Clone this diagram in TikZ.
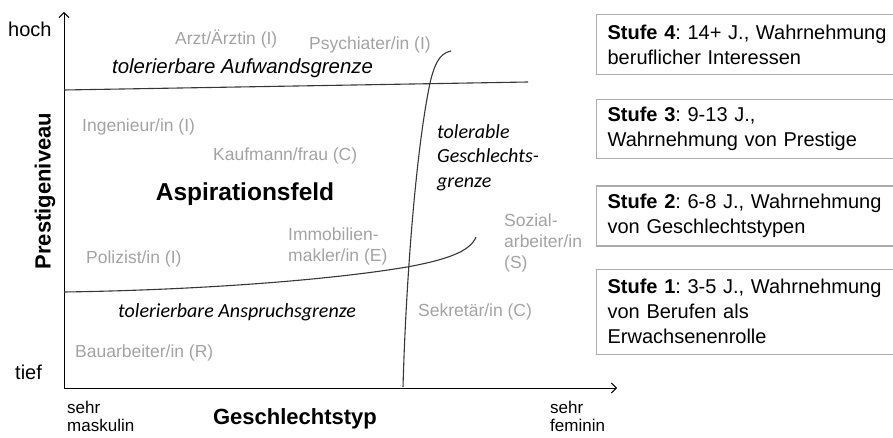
\documentclass[tikz,border=0pt]{standalone}
\usepackage{fontspec}
\setmainfont{Liberation Sans}
\newfontfamily\calibri{Carlito}
\usepackage{xcolor}
\usetikzlibrary{positioning, arrows.meta}
\definecolor{jobgray}{RGB}{163,163,163}
\definecolor{boxgray}{RGB}{172,172,172}
\definecolor{linegray}{RGB}{55,55,55}
\frenchspacing

\begin{document}
\begin{tikzpicture}[x=1pt, y=-1pt,
    job/.style={anchor=base west, inner sep=0, text=jobgray, align=left,
                font=\fontsize{17.5}{21}\selectfont},
    limit/.style={anchor=base west, inner sep=0, align=left,
                font=\fontsize{20}{24.5}\selectfont\calibri\itshape},
    axlbl/.style={anchor=base, inner sep=0, font=\fontsize{22}{26}\selectfont\bfseries},
    tick/.style={anchor=base west, inner sep=0, align=left,
                font=\fontsize{17}{18}\selectfont},
    stage/.style={draw=boxgray, line width=1.2pt, anchor=north west, align=left,
                inner xsep=11pt, inner ysep=0pt, text width=290pt,
                font=\fontsize{20}{25}\selectfont},
    axis/.style={line width=1pt, -{Straight Barb[length=5pt, width=10pt]}},
    bound/.style={line width=1.1pt, draw=linegray}
]
\useasboundingbox (0,0) rectangle (893,438);

% axes
\coordinate (O)    at (64,388);
\coordinate (ytip) at (64,12);
\coordinate (xtip) at (617,388);
\draw[axis] (O) -- (ytip);
\draw[axis] (O) -- (xtip);

\node[tick, font=\fontsize{20}{22}\selectfont] (hoch) at (8,37)  {hoch};
\node[tick, font=\fontsize{20}{22}\selectfont] (tief) at (15,379) {tief};
\node[axlbl, anchor=center, rotate=90] (ylbl) at (45,191) {Prestigeniveau};
\node[axlbl] (xlbl) at (295,424) {Geschlechtstyp};
\node[tick, anchor=north west] (mask) at (67,401) {sehr\\maskulin};
\node[tick, anchor=north west] (fem)  at (550,401) {sehr\\feminin};

% boundaries
\coordinate (aufL) at (64,90);
\coordinate (aufR) at (528,82);
\draw[bound] (aufL) -- (aufR);
\coordinate (gesB) at (403,387);
\coordinate (gesT) at (451,51);
\draw[bound] (gesB) .. controls (406,280) and (416,150) .. (430,83)
                    .. controls (436,57) and (443,53) .. (gesT);
\coordinate (ansL) at (64,292);
\coordinate (ansR) at (476,237);
\draw[bound] (ansL) .. controls (200,290) and (330,280) .. (407,267)
                    .. controls (445,260) and (470,252) .. (ansR);

% boundary labels
\node[limit, font=\fontsize{20.4}{24}\selectfont\itshape] (aufw) at (112,74) {tolerierbare Aufwandsgrenze};
\node[limit] (anspr) at (118,317) {tolerierbare Anspruchsgrenze};
\node[limit, anchor=north west] (gesch) at (437,124) {tolerable\\Geschlechts-\\grenze};
\node[axlbl, font=\fontsize{24.5}{28}\selectfont\bfseries] (asp) at (245,201) {Aspirationsfeld};

% occupations
\node[job] (arzt)  at (175,45)  {Arzt/Ärztin (I)};
\node[job] (psych) at (309,50)  {Psychiater/in (I)};
\node[job] (ing)   at (82,132)  {Ingenieur/in (I)};
\node[job] (kauf)  at (213,161) {Kaufmann/frau (C)};
\node[job] (poli)  at (86,263)  {Polizist/in (I)};
\node[job, anchor=north west] (immo) at (288,228) {Immobilien-\\makler/in (E)};
\node[job, anchor=north west] (sozi) at (504,214) {Sozial-\\arbeiter/in\\(S)};
\node[job] (sekr)  at (418,316) {Sekretär/in (C)};
\node[job] (bau)   at (75,357)  {Bauarbeiter/in (R)};

% stages
\node[stage, minimum height=60pt] (st4) at (596,14)
    {\textbf{Stufe 4}: 14+ J., Wahrnehmung\\beruflicher Interessen};
\node[stage, minimum height=59pt, below=24pt of st4.south west, anchor=north west] (st3)
    {\textbf{Stufe 3}: 9-13 J.,\\Wahrnehmung von Prestige};
\node[stage, minimum height=60pt, below=26pt of st3.south west, anchor=north west] (st2)
    {\textbf{Stufe 2}: 6-8 J., Wahrnehmung\\von Geschlechtstypen};
\node[stage, minimum height=85pt, below=22pt of st2.south west, anchor=north west] (st1)
    {\textbf{Stufe 1}: 3-5 J., Wahrnehmung\\von Berufen als\\Erwachsenenrolle};
\end{tikzpicture}
\end{document}
